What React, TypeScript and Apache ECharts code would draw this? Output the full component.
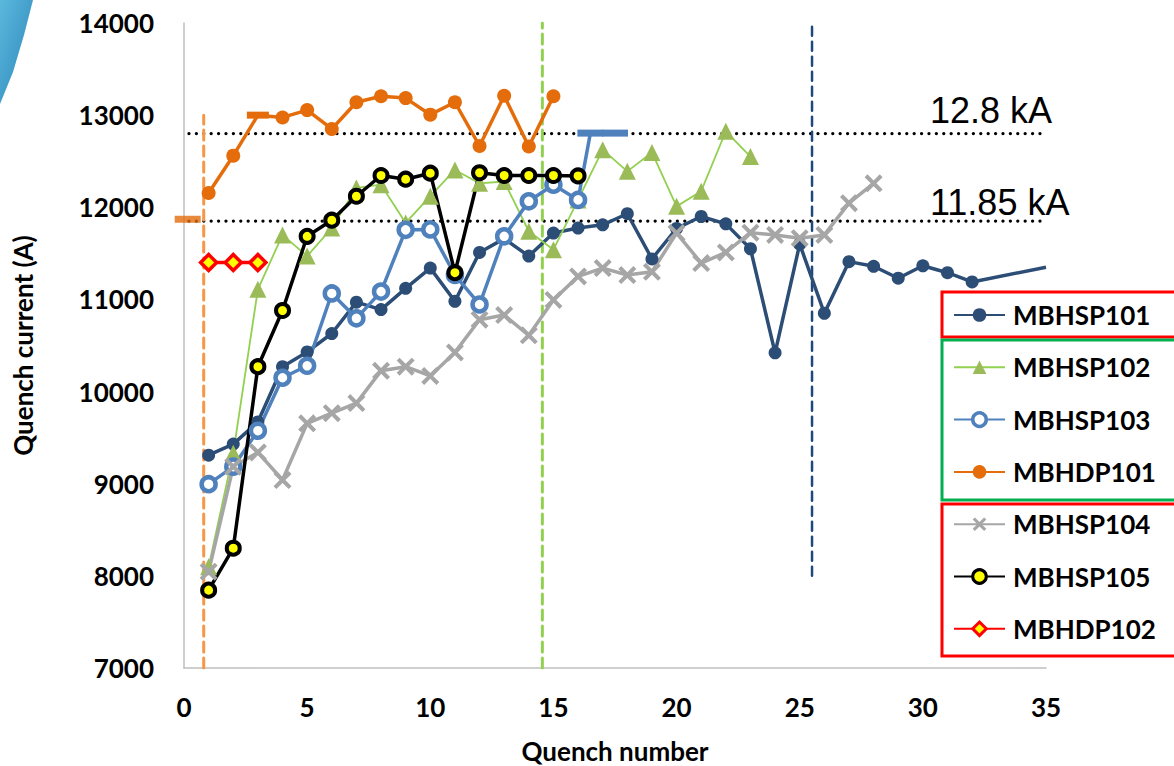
import React, { useEffect, useRef } from "react";
import * as echarts from "echarts";

const xTicks = [0, 5, 10, 15, 20, 25, 30, 35];
const yTicks = [7000, 8000, 9000, 10000, 11000, 12000, 13000, 14000];

const legendNames = ["MBHSP101", "MBHSP102", "MBHSP103", "MBHDP101", "MBHSP104", "MBHSP105", "MBHDP102"];

const mbhsp101 = [
  [1, 9310], [2, 9430], [3, 9670], [4, 10270], [5, 10430], [6, 10630], [7, 10970], [8, 10890],
  [9, 11120], [10, 11340], [11, 10980], [12, 11510], [13, 11660], [14, 11470], [15, 11720],
  [16, 11775], [17, 11810], [18, 11930], [19, 11440], [20, 11770], [21, 11900], [22, 11820],
  [23, 11550], [24, 10420], [25, 11600], [26, 10850], [27, 11410], [28, 11360], [29, 11230],
  [30, 11365], [31, 11290], [32, 11190],
];
const mbhsp101Tail = [35, 11350];

const mbhsp102 = [
  [1, 8100], [2, 9330], [3, 11110], [4, 11700], [5, 11470], [6, 11775], [7, 12210], [8, 12245],
  [9, 11830], [10, 12120], [11, 12405], [12, 12260], [13, 12280], [14, 11740], [15, 11540],
  [16, 12080], [17, 12625], [18, 12390], [19, 12595], [20, 12010], [21, 12175], [22, 12825], [23, 12550],
];

const mbhsp103 = [
  [1, 8995], [2, 9185], [3, 9575], [4, 10150], [5, 10280], [6, 11065], [7, 10795], [8, 11085],
  [9, 11755], [10, 11760], [11, 11265], [12, 10945], [13, 11685], [14, 12065], [15, 12245], [16, 12080],
];
const mbhsp103Flat = [[16.5, 12805], [17.5, 12805]];

const mbhdp101 = [
  [1, 12155], [2, 12560], [3, 13000], [4, 12975], [5, 13055], [6, 12850], [7, 13140], [8, 13205],
  [9, 13185], [10, 13005], [11, 13140], [12, 12665], [13, 13210], [14, 12660], [15, 13205],
];
const mbhdp101Start = [[0.15, 11870]];

const mbhsp104 = [
  [1, 8045], [2, 9185], [3, 9340], [4, 9040], [5, 9655], [6, 9765], [7, 9875], [8, 10225],
  [9, 10270], [10, 10170], [11, 10425], [12, 10780], [13, 10830], [14, 10610], [15, 10995],
  [16, 11250], [17, 11340], [18, 11265], [19, 11300], [20, 11720], [21, 11395], [22, 11510],
  [23, 11725], [24, 11700], [25, 11665], [26, 11700], [27, 12045], [28, 12260],
];

const mbhsp105 = [
  [1, 7845], [2, 8300], [3, 10270], [4, 10880], [5, 11685], [6, 11860], [7, 12120], [8, 12345],
  [9, 12305], [10, 12370], [11, 11290], [12, 12375], [13, 12345], [14, 12345], [15, 12345], [16, 12340],
];

const mbhdp102 = [[1, 11400], [2, 11400], [3, 11400]];

const limit128 = [[0.2, 12800], [35, 12800]];
const limit1185 = [[0.2, 11850], [35, 11850]];
const vOrange = [[0.8, 7000], [0.8, 13000]];
const vGreen = [[14.55, 7000], [14.55, 14000]];
const vNavy = [[25.5, 8000], [25.5, 14000]];

const crossPath =
  "path://M0,1.6L1.6,0L5,3.4L8.4,0L10,1.6L6.6,5L10,8.4L8.4,10L5,6.6L1.6,10L0,8.4L3.4,5Z";

const FONT = "Lato";

export default function App() {
  const ref = useRef<HTMLDivElement>(null);

  useEffect(() => {
    if (!ref.current) return;
    const chart = echarts.init(ref.current, null, { renderer: "svg" });

    const refLine = (name: string, data: number[][], color: string, width: number, type: any) => ({
      name,
      type: "line",
      data,
      symbol: "none",
      silent: true,
      lineStyle: { color, width, type, cap: "round" },
      z: 1,
    });

    const option: any = {
      animation: false,
      backgroundColor: "#ffffff",
      grid: {
        left: 184,
        top: 23,
        width: 862,
        height: 645,
        containLabel: false,
        outerBoundsMode: "none",
      },
      xAxis: {
        type: "value",
        min: xTicks[0],
        max: xTicks[xTicks.length - 1],
        interval: 5,
        name: "Quench number",
        nameLocation: "middle",
        nameGap: 70,
        nameTextStyle: { fontFamily: FONT, fontWeight: "bold", fontSize: 26, color: "#000" },
        axisLine: { show: true, lineStyle: { color: "#BFBFBF", width: 1.5 } },
        axisTick: { show: false },
        splitLine: { show: false },
        axisLabel: { margin: 26, fontFamily: FONT, fontWeight: "bold", fontSize: 26, color: "#000" },
      },
      yAxis: {
        type: "value",
        min: yTicks[0],
        max: yTicks[yTicks.length - 1],
        interval: 1000,
        name: "Quench current (A)",
        nameLocation: "middle",
        nameGap: 148,
        nameTextStyle: { fontFamily: FONT, fontWeight: "bold", fontSize: 26, color: "#000" },
        axisLine: { show: true, lineStyle: { color: "#BFBFBF", width: 1.5 } },
        axisTick: { show: false },
        splitLine: { show: false },
        axisLabel: {
          margin: 30,
          fontFamily: FONT,
          fontWeight: "bold",
          fontSize: 26,
          color: "#000",
          formatter: (v: number) => String(v),
        },
      },
      legend: {
        data: legendNames.map((n) =>
          n === "MBHSP103"
            ? { name: n, itemStyle: { borderWidth: 3.5 } }
            : n === "MBHSP105" || n === "MBHDP102"
            ? { name: n, itemStyle: { borderWidth: 3 } }
            : { name: n }
        ),
        orient: "vertical",
        left: 948,
        top: 297,
        itemWidth: 51,
        itemHeight: 17,
        itemGap: 26.3,
        textStyle: { fontFamily: FONT, fontWeight: "bold", fontSize: 26, color: "#000", padding: [0, 0, 0, 3] },
        selectedMode: false,
      },
      series: [
        refLine("lim128", limit128, "#000000", 3.2, [0.1, 7.3]),
        refLine("lim1185", limit1185, "#000000", 3.2, [0.1, 7.3]),
        refLine("vOrange", vOrange, "#F79646", 3, [10, 6]),
        refLine("vGreen", vGreen, "#92D050", 3, [10, 6]),
        refLine("vNavy", vNavy, "#1F497D", 2.5, [9, 6]),
        {
          name: "MBHSP101",
          type: "line",
          data: [...mbhsp101, { value: mbhsp101Tail, symbol: "none" }],
          symbol: "circle",
          symbolSize: 13,
          itemStyle: { color: "#2C4D75" },
          lineStyle: { color: "#2C4D75", width: 3.5 },
          z: 3,
        },
        {
          name: "MBHSP102",
          type: "line",
          data: mbhsp102,
          symbol: "triangle",
          symbolSize: 17,
          itemStyle: { color: "#9BBB59" },
          lineStyle: { color: "#92D050", width: 1.8 },
          z: 3,
        },
        {
          name: "MBHSP103",
          type: "line",
          data: [
            ...mbhsp103,
            ...mbhsp103Flat.map((p) => ({
              value: p,
              symbol: "rect",
              symbolSize: [26, 7],
              itemStyle: { color: "#4F81BD", borderWidth: 0 },
            })),
          ],
          symbol: "circle",
          symbolSize: 14,
          itemStyle: { color: "#ffffff", borderColor: "#4F81BD", borderWidth: 4.5 },
          lineStyle: { color: "#4F81BD", width: 3.5 },
          z: 3,
        },
        {
          name: "MBHDP101",
          type: "line",
          data: mbhdp101.map((p) =>
            p[0] === 3
              ? { value: p, symbol: "rect", symbolSize: [22, 7] }
              : p
          ),
          symbol: "circle",
          symbolSize: 14,
          itemStyle: { color: "#E46C0A" },
          lineStyle: { color: "#E46C0A", width: 3.5 },
          z: 3,
        },
        {
          name: "MBHDP101start",
          type: "scatter",
          data: mbhdp101Start,
          symbol: "rect",
          symbolSize: [26, 7],
          itemStyle: { color: "#E46C0A" },
          z: 3,
        },
        {
          name: "MBHSP104",
          type: "line",
          data: mbhsp104,
          symbol: crossPath,
          symbolSize: 18,
          itemStyle: { color: "#A6A6A6" },
          lineStyle: { color: "#A6A6A6", width: 3.5 },
          z: 3,
        },
        {
          name: "MBHSP105",
          type: "line",
          data: mbhsp105,
          symbol: "circle",
          symbolSize: 13,
          itemStyle: { color: "#FFFF00", borderColor: "#000000", borderWidth: 4 },
          lineStyle: { color: "#000000", width: 3.5 },
          z: 3,
        },
        {
          name: "MBHDP102",
          type: "line",
          data: mbhdp102,
          symbol: "diamond",
          symbolSize: 16,
          itemStyle: { color: "#FFFF00", borderColor: "#FF0000", borderWidth: 3.5 },
          lineStyle: { color: "#FF0000", width: 3.5 },
          z: 3,
        },
      ],
      graphic: [
        {
          type: "polygon",
          shape: { points: [[0, 0], [33, 0], [24, 35], [13, 72], [0, 104]] },
          style: {
            fill: new echarts.graphic.LinearGradient(0, 0, 1, 1, [
              { offset: 0, color: "#5BB8DD" },
              { offset: 1, color: "#2B86B8" },
            ]),
          },
          silent: true,
        },
        {
          type: "text",
          x: 930,
          y: 110,
          style: {
            text: "12.8 kA",
            fontFamily: "Liberation Sans",
            fontSize: 36,
            fill: "#000",
            verticalAlign: "middle",
          },
        },
        {
          type: "text",
          x: 930,
          y: 202,
          style: {
            text: "11.85 kA",
            fontFamily: "Liberation Sans",
            fontSize: 36,
            fill: "#000",
            verticalAlign: "middle",
          },
        },
        {
          type: "rect",
          shape: { x: 942, y: 292, width: 300, height: 45 },
          style: { fill: "none", stroke: "#FF0000", lineWidth: 3 },
          silent: true,
        },
        {
          type: "rect",
          shape: { x: 942, y: 340, width: 300, height: 160 },
          style: { fill: "none", stroke: "#00B050", lineWidth: 3 },
          silent: true,
        },
        {
          type: "rect",
          shape: { x: 942, y: 504, width: 300, height: 152 },
          style: { fill: "none", stroke: "#FF0000", lineWidth: 3 },
          silent: true,
        },
      ],
    };

    chart.setOption(option);
    return () => chart.dispose();
  }, []);

  return (
    <div
      ref={ref}
      style={{ position: "fixed", left: 0, top: 0, width: 1174, height: 766, background: "#fff" }}
    />
  );
}
